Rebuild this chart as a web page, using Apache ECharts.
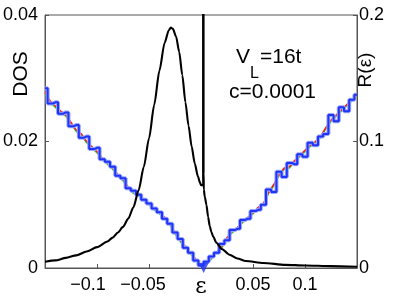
<!DOCTYPE html>
<html><head><meta charset="utf-8">
<script src="https://cdn.jsdelivr.net/npm/echarts@6/dist/echarts.min.js"></script>
<style>html,body{margin:0;padding:0;background:#fff}#c{width:395px;height:300px}</style>
</head><body><div id="c"></div>
<script>
// ---- data ----
var xTicks = [-0.1, -0.05, 0, 0.05, 0.1];
// DOS (left axis): peak, jump at eps~0, then tail
var dosLeftE = [-0.15,-0.14,-0.13,-0.12,-0.11,-0.10,-0.09,-0.085,-0.08,-0.075,-0.07,-0.065,-0.06,-0.055,-0.05,-0.045,-0.04,-0.035,-0.031,-0.029,-0.027,-0.024,-0.021,-0.018,-0.015,-0.012,-0.009,-0.006,-0.003,-0.001,0,0.0022,0.0022];
var dosLeftV = [0.0010,0.0012,0.0016,0.0020,0.0026,0.0033,0.0042,0.0048,0.0056,0.0065,0.0078,0.0096,0.0123,0.0160,0.0205,0.0258,0.0312,0.0356,0.0376,0.0380,0.0378,0.0366,0.0342,0.0305,0.0262,0.0225,0.0192,0.0165,0.0145,0.0135,0.0131,0.0131,0.06];
var dosTailE = [0.0022,0.0022,0.0027,0.0036,0.0052,0.0068,0.0084,0.0100,0.0116,0.0148,0.02,0.0274,0.035,0.043,0.06,0.081,0.1,0.125,0.15];
var dosTailV = [0.06,0.0150,0.0124,0.0113,0.0100,0.0081,0.0066,0.0057,0.0050,0.0040,0.0030,0.0021,0.0015,0.0011,0.0008,0.0005,0.0004,0.0003,0.0002];
// R(eps) (right axis)
var rE = [-0.15,-0.145,-0.14,-0.135,-0.13,-0.125,-0.12,-0.115,-0.11,-0.105,-0.1,-0.095,-0.09,-0.085,-0.08,-0.075,-0.07,-0.065,-0.06,-0.055,-0.05,-0.045,-0.04,-0.035,-0.03,-0.025,-0.02,-0.015,-0.01,-0.005,0,0.005,0.01,0.015,0.02,0.025,0.03,0.035,0.04,0.045,0.05,0.055,0.06,0.065,0.07,0.075,0.08,0.085,0.09,0.095,0.1,0.105,0.11,0.115,0.12,0.125,0.13,0.135,0.14,0.145,0.15];
var rBlue = [0.142,0.130,0.131,0.122,0.123,0.112,0.113,0.103,0.104,0.094,0.095,0.086,0.084,0.080,0.073,0.071,0.063,0.061,0.058,0.054,0.051,0.047,0.044,0.039,0.035,0.028,0.023,0.016,0.012,0.006,0.002,0.005,0.009,0.012,0.019,0.022,0.030,0.031,0.038,0.039,0.045,0.046,0.050,0.062,0.060,0.076,0.072,0.083,0.082,0.090,0.088,0.099,0.097,0.104,0.106,0.121,0.116,0.127,0.124,0.133,0.137];
var rRed = [0.139,0.132,0.128,0.124,0.121,0.115,0.109,0.106,0.100,0.096,0.092,0.087,0.083,0.079,0.074,0.070,0.064,0.060,0.058,0.054,0.051,0.047,0.044,0.040,0.035,0.028,0.022,0.017,0.012,0.007,0.0024,0.0047,0.008,0.0127,0.017,0.024,0.029,0.032,0.037,0.040,0.0435,0.048,0.051,0.060,0.066,0.074,0.079,0.080,0.085,0.089,0.093,0.097,0.100,0.104,0.111,0.117,0.121,0.125,0.129,0.133,0.136];
var rGreen = [0.138,0.131,0.127,0.123,0.120,0.114,0.108,0.105,0.099,0.095,0.091,0.086,0.082,0.078,0.073,0.069,0.063,0.059,0.057,0.053,0.050,0.046,0.043,0.039,0.034,0.027,0.021,0.016,0.011,0.006,0.002,0.004,0.007,0.012,0.016,0.023,0.028,0.031,0.036,0.039,0.043,0.047,0.050,0.059,0.065,0.073,0.078,0.079,0.084,0.088,0.092,0.096,0.099,0.103,0.110,0.116,0.120,0.124,0.128,0.132,0.135];
var minE = [0.0025];
var minR = [0];

function zip(a,b){return a.map(function(v,i){return [v,b[i]];});}
function fmt(v){var r=Math.round(v*1000)/1000;return String(r).replace('-','\u2212');}

var FONT = 'Liberation Sans';
var chart = echarts.init(document.getElementById('c'), null, {renderer:'canvas'});
chart.setOption({
  animation:false,
  backgroundColor:'#fff',
  textStyle:{fontFamily:FONT},
  grid:{left:42,right:38,top:15,bottom:32,show:true,borderColor:'#555',borderWidth:1,backgroundColor:'transparent'},
  xAxis:{type:'value',min:-0.15,max:0.15,interval:0.05,
    axisLine:{onZero:false,lineStyle:{color:'#555',width:1}},
    axisTick:{inside:true,length:4,lineStyle:{color:'#555'}},
    splitLine:{show:false},
    axisLabel:{margin:8,color:'#000',fontSize:18,fontFamily:FONT,
      formatter:function(v){
        if(Math.abs(v)>0.14) return '';
        if(Math.abs(v)<1e-9) return '{e|\u03b5}';
        if(v<-0.07) return '{a|'+fmt(v)+'}';
        if(v<0) return '{b|'+fmt(v)+'}';
        return fmt(v);},
      rich:{e:{fontSize:22,fontFamily:'DejaVu Serif',color:'#000',padding:[0,0,4,0]},
            a:{fontSize:18,fontFamily:FONT,color:'#000',padding:[0,18,0,0]},
            b:{fontSize:18,fontFamily:FONT,color:'#000',padding:[0,12,0,0]}}}
  },
  yAxis:[
    {type:'value',min:0,max:0.04,interval:0.02,position:'left',
      axisLine:{show:true,onZero:false,lineStyle:{color:'#555'}},
      axisTick:{show:true,inside:true,length:4,lineStyle:{color:'#555'}},
      splitLine:{show:false},
      axisLabel:{margin:7,color:'#000',fontSize:18,fontFamily:FONT,formatter:function(v){return fmt(v);}}},
    {type:'value',min:0,max:0.2,interval:0.1,position:'right',
      axisLine:{show:true,onZero:false,lineStyle:{color:'#555'}},
      axisTick:{show:true,inside:true,length:4,lineStyle:{color:'#555'}},
      splitLine:{show:false},
      axisLabel:{margin:2,color:'#000',fontSize:18,fontFamily:FONT,formatter:function(v){return fmt(v);}}}
  ],
  series:[
    {type:'line',yAxisIndex:1,data:zip(rE,rGreen),symbol:'none',lineStyle:{color:'#2ecc2e',width:1.5},z:2},
    {type:'line',yAxisIndex:1,data:zip(rE,rRed),symbol:'none',lineStyle:{color:'#ff1a1a',width:1.5},z:3},
    {type:'line',yAxisIndex:1,data:zip(rE,rBlue),step:'middle',symbol:'none',lineStyle:{color:'#9aa6ff',width:4},z:4},
    {type:'line',yAxisIndex:1,data:zip(rE,rBlue),step:'middle',symbol:'none',lineStyle:{color:'#1f34f5',width:2},z:5},
    {type:'scatter',yAxisIndex:1,data:zip(minE,minR),symbol:'triangle',symbolRotate:180,symbolSize:10,itemStyle:{color:'#1f34f5'},clip:false,z:6},
    {type:'line',yAxisIndex:0,data:zip(dosLeftE,dosLeftV),smooth:0.25,smoothMonotone:'x',symbol:'none',lineStyle:{color:'#000',width:2.1},z:7},
    {type:'line',yAxisIndex:0,data:zip(dosTailE,dosTailV),smooth:0.25,smoothMonotone:'x',symbol:'none',lineStyle:{color:'#000',width:2.1},z:7}
  ],
  graphic:[
    {type:'text',x:21,y:74,rotation:Math.PI/2,style:{text:'DOS',fontSize:21,fontFamily:FONT,fill:'#000',align:'center',verticalAlign:'middle'}},
    {type:'text',x:366,y:70,rotation:Math.PI/2,style:{text:'R(\u03b5)',fontSize:19,fontFamily:FONT,fill:'#000',align:'center',verticalAlign:'middle'}},
    {type:'text',x:236,y:57,style:{text:'V',fontSize:21,fontFamily:FONT,fill:'#000',align:'left',verticalAlign:'middle'}},
    {type:'text',x:250,y:74,style:{text:'L',fontSize:16,fontFamily:FONT,fill:'#000',align:'left',verticalAlign:'middle'}},
    {type:'text',x:260,y:57,style:{text:'=16t',fontSize:21,fontFamily:FONT,fill:'#000',align:'left',verticalAlign:'middle'}},
    {type:'text',x:229,y:92,style:{text:'c=0.0001',fontSize:21,fontFamily:FONT,fill:'#000',align:'left',verticalAlign:'middle'}}
  ]
});
</script></body></html>
